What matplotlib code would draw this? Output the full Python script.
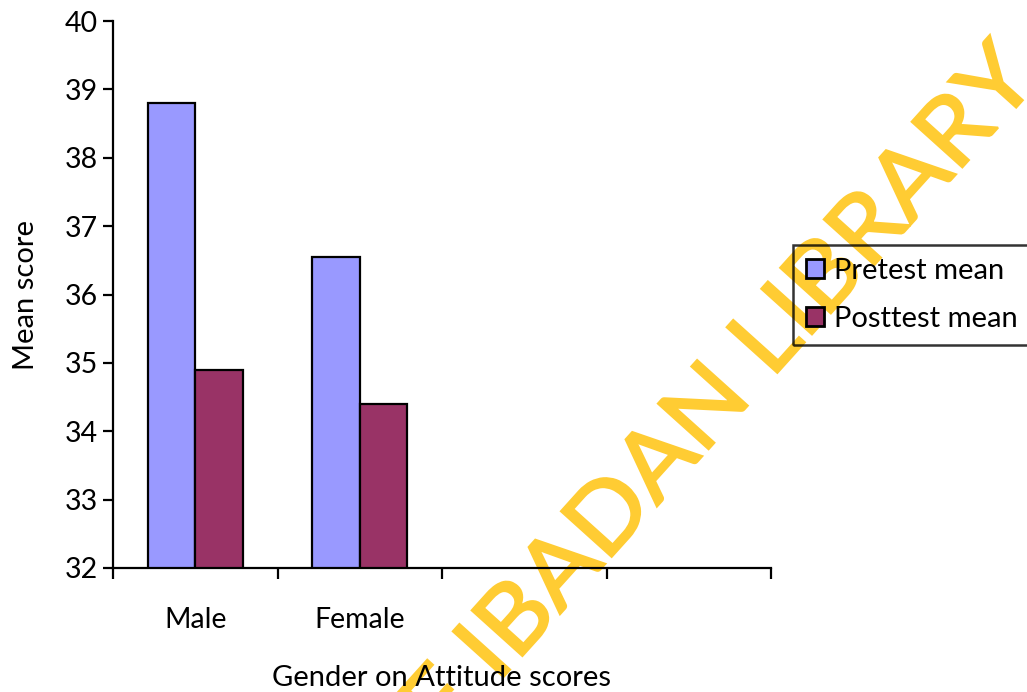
import matplotlib
matplotlib.use("Agg")
import matplotlib.pyplot as plt
from matplotlib.textpath import TextPath
from matplotlib.font_manager import FontProperties
from matplotlib.patches import PathPatch
from matplotlib.transforms import Affine2D, IdentityTransform
import numpy as np

# Data
categories = ["Male", "Female", "", ""]
pretest_mean = [38.8, 36.55]
posttest_mean = [34.9, 34.4]
series_names = ["Pretest mean", "Posttest mean"]
y_ticks = [32, 33, 34, 35, 36, 37, 38, 39, 40]
watermark = "UNIVERSITY OF IBADAN LIBRARY"

plt.rcParams["font.family"] = ["Lato", "DejaVu Sans"]

fig = plt.figure(figsize=(10.27, 6.92), dpi=100)
fig.patch.set_facecolor("white")
ax = fig.add_axes([113 / 1027, 1 - 568 / 692, 658 / 1027, 547 / 692])
ax.patch.set_alpha(0)

width = 0.29
x = np.arange(len(pretest_mean))
ax.bar(x - width / 2, pretest_mean, width, color="#9999FF",
       edgecolor="black", linewidth=1.6, label=series_names[0])
ax.bar(x + width / 2, posttest_mean, width, color="#993366",
       edgecolor="black", linewidth=1.6, label=series_names[1])

ax.set_ylim(32, 40)
ax.set_xlim(-0.5, len(categories) - 0.5)
ax.set_yticks(y_ticks)
ax.set_yticklabels([str(t) for t in y_ticks], fontsize=20.5)

# Category slot boundaries carry the tick marks; labels sit at slot centres
ax.set_xticks(np.arange(len(categories) + 1) - 0.5)
ax.set_xticklabels([])
ax.set_xticks(np.arange(len(categories)), minor=True)
ax.set_xticklabels(categories, minor=True, fontsize=20.5)
ax.tick_params(axis="x", which="minor", length=0, pad=28)
ax.tick_params(axis="x", which="major", length=8, width=1.6, direction="out")
ax.tick_params(axis="y", length=7, width=1.6, direction="out", pad=4)

for s in ["top", "right"]:
    ax.spines[s].set_visible(False)
for s in ["left", "bottom"]:
    ax.spines[s].set_linewidth(1.6)

ax.set_ylabel("Mean score", fontsize=21, labelpad=18)
ax.set_xlabel("Gender on Attitude scores", fontsize=21, labelpad=23)

leg = fig.legend(loc="upper left", bbox_to_anchor=(793 / 1027, 1 - 245 / 692),
                 fontsize=21, frameon=True, fancybox=False, handlelength=0.62,
                 handleheight=0.62, handletextpad=0.35, borderpad=0.45,
                 labelspacing=0.75, borderaxespad=0)
frame = leg.get_frame()
frame.set_edgecolor("black")
frame.set_linewidth(1.8)
frame.set_facecolor("none")
leg.set_zorder(6)
for h in leg.legend_handles:
    h.set_linewidth(2)

# Diagonal library watermark, built from a text path, drawn beneath the axes
fp = FontProperties(family="Lato", weight="normal")
full = TextPath((0, 0), watermark, size=100, prop=fp)
head = watermark.split("IBADAN")[0]
i_centre = TextPath((0, 0), head + "I", size=100, prop=fp).get_extents().xmax - 4.5
l_right = TextPath((0, 0), head + "IBADAN L", size=100, prop=fp).get_extents().xmax
l_width = TextPath((0, 0), "L", size=100, prop=fp).get_extents().width
l_corner = l_right - l_width
sx = 404.0 / (l_corner - i_centre)
sy = 0.95
tr = (Affine2D().translate(-i_centre, 0).scale(sx, sy).rotate_deg(48)
      .translate(507, 692 - 673))
patch = PathPatch(full, facecolor="#FFCC33", edgecolor="#FFCC33",
                  linewidth=1.6, joinstyle="miter",
                  transform=tr + IdentityTransform(), zorder=-1)
fig.add_artist(patch)

fig.savefig("out.png", dpi=100)
